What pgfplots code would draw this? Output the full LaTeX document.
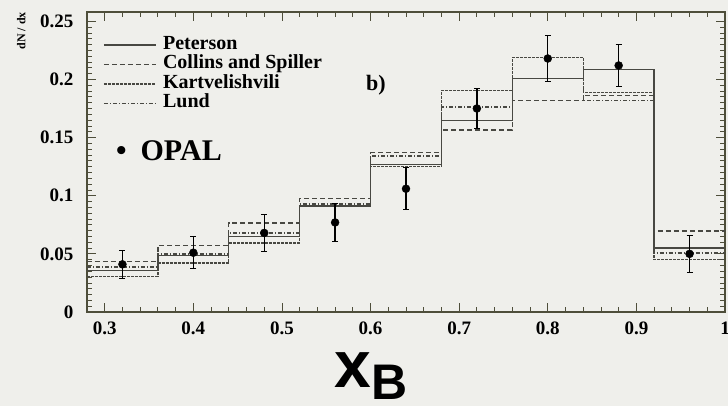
\documentclass[border=0pt]{standalone}
\usepackage{pgfplots}
\pgfplotsset{compat=1.18}
\usepackage{fontspec}
\setmainfont{Liberation Serif}
\newfontfamily\sansb{Liberation Sans}
\definecolor{bg}{RGB}{239,239,235}
\definecolor{histc}{RGB}{72,72,66}
\definecolor{frame}{RGB}{78,78,58}

\begin{document}
\begin{tikzpicture}
\fill[bg] (-87pt,-94pt) rectangle (641pt,312pt);
\begin{axis}[
  scale only axis, width=638pt, height=300pt,
  xmin=0.28, xmax=1.0, ymin=0, ymax=0.258,
  axis line style={frame, line width=1.3pt},
  tick align=inside, xtick pos=both, ytick pos=both,
  major tick length=9pt, minor tick length=5pt,
  every tick/.style={frame, line width=0.8pt},
  xtick={0.3,0.4,0.5,0.6,0.7,0.8,0.9,1.0},
  xticklabels={0.3,0.4,0.5,0.6,0.7,0.8,0.9,1},
  minor x tick num=4,
  ytick={0,0.05,0.1,0.15,0.2,0.25},
  yticklabels={0,0.05,0.1,0.15,0.2,0.25},
  minor y tick num=9,
  xticklabel style={font=\bfseries\fontsize{19}{19}\selectfont, yshift=-6pt},
  yticklabel style={font=\bfseries\fontsize{19}{19}\selectfont, xshift=-10pt},
  ylabel={dN / dx},
  ylabel style={at={(axis description cs:-0.103,0.937)}, anchor=center, font=\bfseries\fontsize{12}{12}\selectfont},
  xlabel={\sansb\bfseries\fontsize{66}{66}\selectfont x\raisebox{-12pt}{\fontsize{50}{50}\selectfont B}},
  xlabel style={at={(axis description cs:0.445,-0.252)}, anchor=base},
  legend style={at={(rel axis cs:0.025,0.922)}, anchor=north west, draw=none, fill=none, inner sep=0pt,
    font=\bfseries\fontsize{20}{20}\selectfont, nodes={inner sep=0.5pt, text height=13pt, text depth=4.5pt}, column sep=6pt, row sep=1pt},
  legend cell align=left,
  legend image code/.code={\draw[#1] (0pt,0pt) -- (52pt,0pt);},
  clip=false,
]
\addplot[const plot, histc, line width=1.4pt] coordinates {
 (0.28,0.0357) (0.36,0.0484) (0.44,0.065) (0.52,0.091) (0.60,0.127)
 (0.68,0.1646) (0.76,0.201) (0.84,0.2088) (0.92,0.055) (1.00,0.055)};
\addlegendentry{Peterson}
\addplot[const plot, histc, line width=1.4pt, dash pattern=on 5pt off 3pt] coordinates {
 (0.28,0.0435) (0.36,0.0571) (0.44,0.0767) (0.52,0.0975) (0.60,0.137)
 (0.68,0.1566) (0.76,0.182) (0.84,0.186) (0.92,0.0695) (1.00,0.0695)};
\addlegendentry{Collins and Spiller}
\addplot[const plot, histc, line width=1.4pt, dash pattern=on 3pt off 1pt] coordinates {
 (0.28,0.0305) (0.36,0.0421) (0.44,0.0594) (0.52,0.091) (0.60,0.125)
 (0.68,0.1906) (0.76,0.219) (0.84,0.189) (0.92,0.045) (1.00,0.045)};
\addlegendentry{Kartvelishvili}
\addplot[const plot, histc, line width=1.4pt, dash pattern=on 4pt off 2pt on 1pt off 2pt] coordinates {
 (0.28,0.0387) (0.36,0.050) (0.44,0.068) (0.52,0.093) (0.60,0.134)
 (0.68,0.1762) (0.76,0.201) (0.84,0.182) (0.92,0.0508) (1.00,0.0508)};
\addlegendentry{Lund}
\addplot[forget plot, only marks, mark=*, mark size=4pt, black,
  error bars/.cd, y dir=both, y explicit,
  error bar style={line width=1.3pt, black},
  error mark options={rotate=90, mark size=3pt, line width=1pt, black}]
 coordinates {
 (0.32,0.041) +- (0,0.012)
 (0.40,0.051) +- (0,0.014)
 (0.48,0.068) +- (0,0.016)
 (0.56,0.077) +- (0,0.016)
 (0.64,0.106) +- (0,0.018)
 (0.72,0.175) +- (0,0.017)
 (0.80,0.218) +- (0,0.020)
 (0.88,0.212) +- (0,0.018)
 (0.96,0.050) +- (0,0.016)};
\node[font=\bfseries\fontsize{22}{22}\selectfont] at (axis cs:0.606,0.195) {b)};
\node[anchor=base west, inner sep=0pt, font=\bfseries\fontsize{30}{30}\selectfont] at (axis cs:0.3127,0.1307) {•\hspace{14pt}OPAL};
\end{axis}
\pgfresetboundingbox
\path (-87pt,-94pt) rectangle (641pt,312pt);
\end{tikzpicture}
\end{document}
